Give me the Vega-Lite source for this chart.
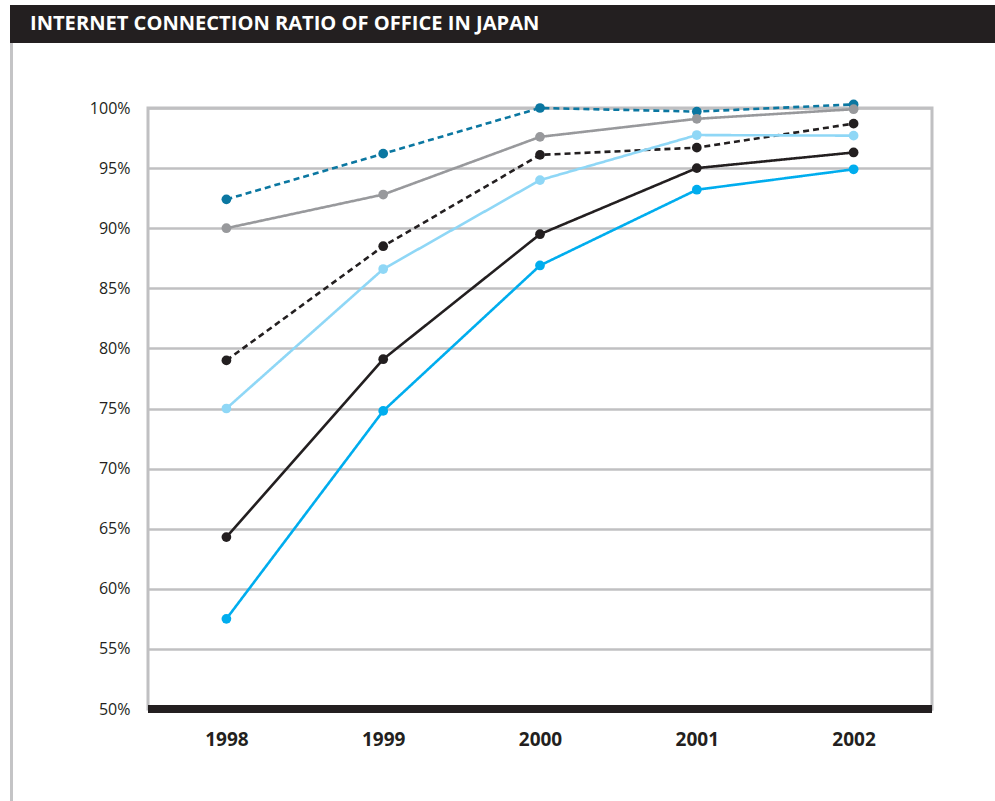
{
  "$schema": "https://vega.github.io/schema/vega-lite/v6.json",
  "padding": {"left": 10, "top": 5, "right": 0, "bottom": 0},
  "background": "white",
  "spacing": 0,
  "config": {"view": {"stroke": null}, "font": "Open Sans"},
  "datasets": {
    "series": [
      {"year": "1998", "series": "s1", "value": 92.4},
      {"year": "1999", "series": "s1", "value": 96.2},
      {"year": "2000", "series": "s1", "value": 100.0},
      {"year": "2001", "series": "s1", "value": 99.7},
      {"year": "2002", "series": "s1", "value": 100.3},
      {"year": "1998", "series": "s2", "value": 90.0},
      {"year": "1999", "series": "s2", "value": 92.8},
      {"year": "2000", "series": "s2", "value": 97.6},
      {"year": "2001", "series": "s2", "value": 99.1},
      {"year": "2002", "series": "s2", "value": 99.9},
      {"year": "1998", "series": "s3", "value": 79.0},
      {"year": "1999", "series": "s3", "value": 88.5},
      {"year": "2000", "series": "s3", "value": 96.1},
      {"year": "2001", "series": "s3", "value": 96.7},
      {"year": "2002", "series": "s3", "value": 98.7},
      {"year": "1998", "series": "s4", "value": 75.0},
      {"year": "1999", "series": "s4", "value": 86.6},
      {"year": "2000", "series": "s4", "value": 94.0},
      {"year": "2001", "series": "s4", "value": 97.75},
      {"year": "2002", "series": "s4", "value": 97.7},
      {"year": "1998", "series": "s5", "value": 64.3},
      {"year": "1999", "series": "s5", "value": 79.1},
      {"year": "2000", "series": "s5", "value": 89.5},
      {"year": "2001", "series": "s5", "value": 95.0},
      {"year": "2002", "series": "s5", "value": 96.3},
      {"year": "1998", "series": "s6", "value": 57.5},
      {"year": "1999", "series": "s6", "value": 74.8},
      {"year": "2000", "series": "s6", "value": 86.9},
      {"year": "2001", "series": "s6", "value": 93.2},
      {"year": "2002", "series": "s6", "value": 94.9}
    ]
  },
  "vconcat": [
    {
      "width": 985,
      "height": 38,
      "view": {"fill": "#231f20", "stroke": null},
      "data": {"values": [{"t": "INTERNET CONNECTION RATIO OF OFFICE IN JAPAN"}]},
      "mark": {"type": "text", "align": "left", "baseline": "middle", "x": 20, "y": 18.5, "color": "white", "font": "Open Sans", "fontWeight": "bold", "fontSize": 20.1},
      "encoding": {"text": {"field": "t"}}
    },
    {
      "spacing": 74,
      "hconcat": [
        {
          "width": 3,
          "height": 758,
          "view": {"fill": "#c4c4c6", "stroke": null},
          "data": {"values": []},
          "mark": "point",
          "encoding": {}
        },
        {
          "spacing": 0,
          "vconcat": [
            {
              "width": 784,
              "height": 54,
              "view": {"stroke": null},
              "data": {"values": []},
              "mark": "point",
              "encoding": {}
            },
            {
              "width": 784,
              "height": 601,
              "view": {"stroke": "#c0c0c2", "strokeWidth": 3},
              "layer": [
                {
                  "data": {"name": "series"},
                  "mark": {"type": "line", "strokeWidth": 2.6},
                  "encoding": {
                    "x": {
                      "field": "year",
                      "type": "ordinal",
                      "scale": {"type": "point", "padding": 0.5},
                      "axis": {"title": null, "domain": false, "ticks": false, "tickSize": 0, "labelPadding": 21, "labelFont": "Open Sans", "labelFontWeight": "bold", "labelFontSize": 19, "labelColor": "#231f20", "labelAngle": 0, "grid": false}
                    },
                    "y": {
                      "field": "value",
                      "type": "quantitative",
                      "scale": {"domain": [50, 100], "nice": false, "zero": false},
                      "axis": {"title": null, "values": [50, 55, 60, 65, 70, 75, 80, 85, 90, 95, 100], "labelExpr": "datum.value + '%'", "domain": false, "ticks": false, "tickSize": 0, "labelPadding": 18, "labelFont": "Open Sans", "labelFontSize": 16, "labelColor": "#231f20", "grid": true, "gridColor": "#c0c0c2", "gridWidth": 2.5}
                    },
                    "color": {
                      "field": "series",
                      "type": "nominal",
                      "scale": {"domain": ["s1", "s2", "s3", "s4", "s5", "s6"], "range": ["#0b77a1", "#98999c", "#231f20", "#8fd7f6", "#231f20", "#00adee"]},
                      "legend": null
                    },
                    "strokeDash": {
                      "field": "series",
                      "type": "nominal",
                      "scale": {"domain": ["s1", "s2", "s3", "s4", "s5", "s6"], "range": [[6, 4], [1, 0], [6, 4], [1, 0], [1, 0], [1, 0]]},
                      "legend": null
                    }
                  }
                },
                {
                  "data": {"name": "series"},
                  "mark": {"type": "circle", "size": 95, "opacity": 1},
                  "encoding": {
                    "x": {"field": "year", "type": "ordinal"},
                    "y": {"field": "value", "type": "quantitative"},
                    "color": {"field": "series", "type": "nominal", "legend": null}
                  }
                },
                {
                  "data": {"values": [{"base": 50}]},
                  "mark": {"type": "rule", "color": "#231f20", "strokeWidth": 8},
                  "encoding": {"y": {"field": "base", "type": "quantitative"}}
                }
              ]
            }
          ]
        }
      ]
    }
  ]
}
